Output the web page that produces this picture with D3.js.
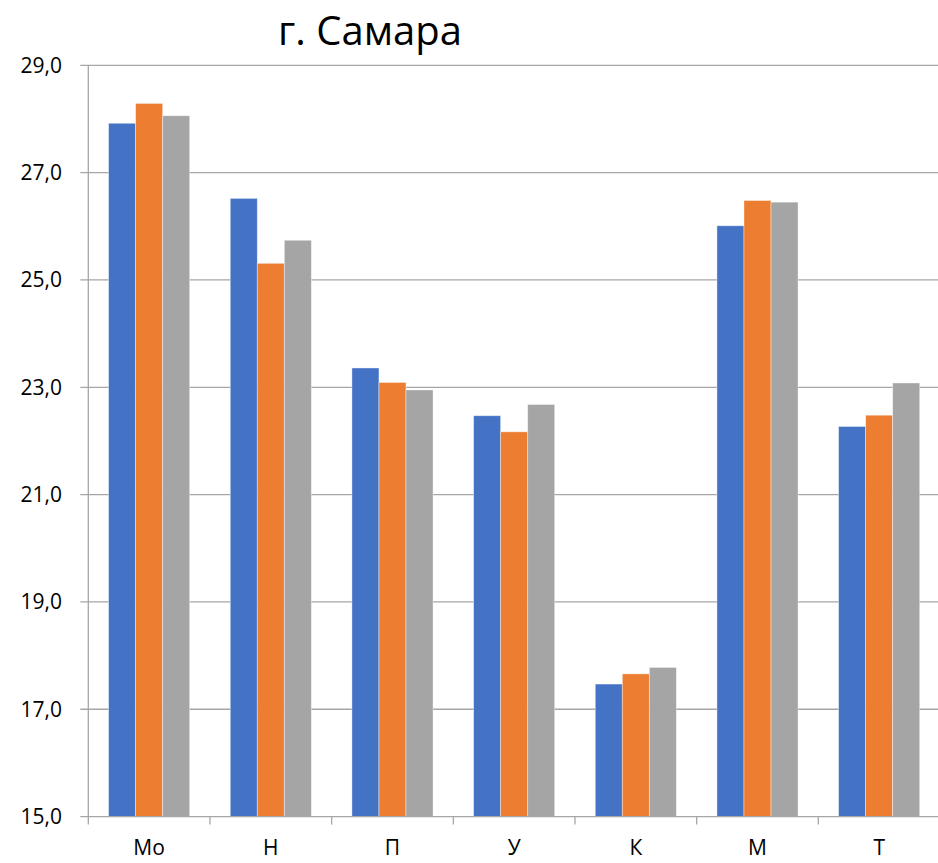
<!DOCTYPE html>
<html><head><meta charset="utf-8">
<script src="https://cdn.jsdelivr.net/npm/d3@7"></script>
<style>body{margin:0;background:#fff}svg{display:block}</style>
</head><body>
<script>
const categories = ["Мо", "Н", "П", "У", "К", "М", "Т"];
const series1 = [27.92, 26.52, 23.36, 22.47, 17.47, 26.01, 22.27];
const series2 = [28.29, 25.31, 23.09, 22.17, 17.66, 26.48, 22.48];
const series3 = [28.06, 25.74, 22.95, 22.68, 17.78, 26.45, 23.08];
const yTicks = [15, 17, 19, 21, 23, 25, 27, 29];
const colors = ["#4472C4", "#ED7D31", "#A5A5A5"];
const title = "г. Самара";

const W = 938, H = 863;
const m = {left: 88.3, right: 940, top: 65.3, bottom: 816.6};
const svg = d3.select("body").append("svg").attr("width", W).attr("height", H);
const font = "'Open Sans', 'Noto Sans', sans-serif";

const x = d3.scaleBand().domain(categories).range([m.left, m.right]).paddingInner(0).paddingOuter(0);
const y = d3.scaleLinear().domain([15, 29]).range([m.bottom, m.top]);
const barW = x.bandwidth() / 4.5;
const xs = d3.scaleBand().domain([0,1,2]).range([0, barW*3]);

// gridlines
svg.append("g").selectAll("line").data(yTicks.filter(d => d > 15)).join("line")
  .attr("x1", m.left - 8).attr("x2", W)
  .attr("y1", d => y(d)).attr("y2", d => y(d))
  .attr("stroke", "#A6A6A6").attr("stroke-width", 1.3);

// bars
const data = categories.map((c, i) => ({c, v: [series1[i], series2[i], series3[i]]}));
const g = svg.append("g").selectAll("g").data(data).join("g")
  .attr("transform", d => `translate(${x(d.c) + (x.bandwidth() - barW*3)/2},0)`);
g.selectAll("rect").data(d => d.v.map((v, k) => ({v, k}))).join("rect")
  .attr("x", d => xs(d.k)).attr("width", xs.bandwidth())
  .attr("y", d => y(d.v)).attr("height", d => y(15) - y(d.v))
  .attr("fill", d => colors[d.k])
  .attr("stroke", "#fff").attr("stroke-opacity", 0.5).attr("stroke-width", 0.8);

// y axis labels + tick
svg.append("g").selectAll("text").data(yTicks).join("text")
  .attr("x", 62).attr("y", d => y(d)).attr("dy", "0.35em")
  .attr("text-anchor", "end").attr("font-family", font).attr("font-size", 21)
  .attr("fill", "#000").text(d => d3.format(".1f")(d).replace(".", ","));

// y axis line
svg.append("line").attr("x1", m.left).attr("x2", m.left).attr("y1", m.top).attr("y2", m.bottom)
  .attr("stroke", "#A6A6A6").attr("stroke-width", 1.3);
// x axis line
svg.append("line").attr("x1", m.left - 8).attr("x2", W).attr("y1", m.bottom).attr("y2", m.bottom)
  .attr("stroke", "#A6A6A6").attr("stroke-width", 1.3);
// x tick marks at band boundaries
const bounds = categories.map(c => x(c));
svg.append("g").selectAll("line").data(bounds).join("line")
  .attr("x1", d => d).attr("x2", d => d).attr("y1", m.bottom).attr("y2", m.bottom + 8)
  .attr("stroke", "#A6A6A6").attr("stroke-width", 1.3);
// x labels
svg.append("g").selectAll("text").data(categories).join("text")
  .attr("x", d => x(d) + x.bandwidth()/2).attr("y", 855)
  .attr("text-anchor", "middle").attr("font-family", font).attr("font-size", 21)
  .attr("fill", "#000").text(d => d);

// title
svg.append("text").attr("x", 370).attr("y", 45).attr("text-anchor", "middle")
  .attr("font-family", font).attr("font-size", 40).attr("fill", "#000").text(title);
</script>
</body></html>
